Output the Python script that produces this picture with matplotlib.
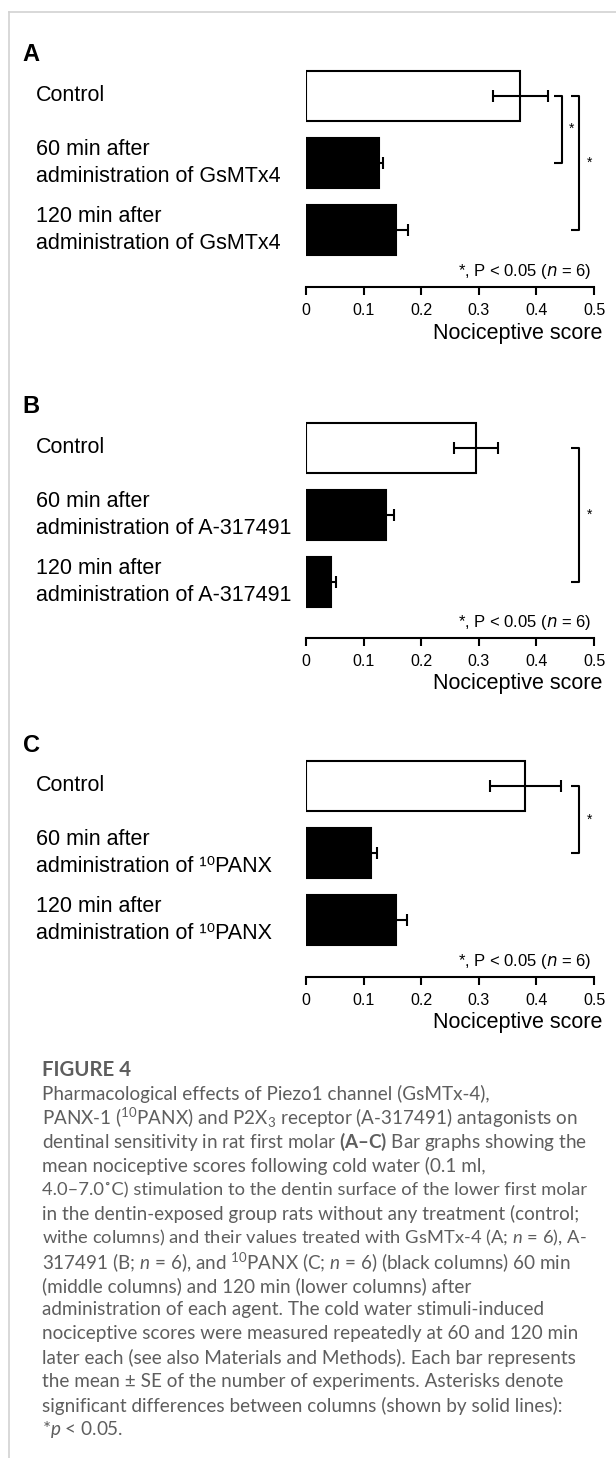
import numpy as np
import matplotlib
matplotlib.use("Agg")
import matplotlib.pyplot as plt
from matplotlib.lines import Line2D

plt.rcParams["font.family"] = ["Liberation Sans", "DejaVu Sans"]
plt.rcParams["mathtext.fontset"] = "custom"
plt.rcParams["mathtext.rm"] = "Lato"
plt.rcParams["mathtext.it"] = "Lato:italic"
plt.rcParams["mathtext.bf"] = "Lato:bold"

# ── Data ──────────────────────────────────────────────────────────────────────
PANELS = ["A", "B", "C"]
AGENTS = ["GsMTx4", "A-317491", "¹⁰PANX"]

MEANS_A = [0.372, 0.127, 0.157]
SE_A    = [0.048, 0.006, 0.020]
MEANS_B = [0.295, 0.139, 0.043]
SE_B    = [0.0385, 0.014, 0.009]
MEANS_C = [0.381, 0.113, 0.157]
SE_C    = [0.061, 0.011, 0.019]

SIG_A = [(0, 1), (0, 2)]
SIG_B = [(0, 2)]
SIG_C = [(0, 1)]

X_TICKS = [0, 0.1, 0.2, 0.3, 0.4, 0.5]
X_TICKLABELS = ["0", "0.1", "0.2", "0.3", "0.4", "0.5"]

CAPTION_TITLE = "FIGURE 4"
CAPTION_LINES = [
    "Pharmacological effects of Piezo1 channel (GsMTx-4),",
    "PANX-1 ($^{10}$PANX) and P2X$_3$ receptor (A-317491) antagonists on",
    r"dentinal sensitivity in rat first molar $\mathbf{(A–C)}$ Bar graphs showing the",
    "mean nociceptive scores following cold water (0.1 ml,",
    "4.0–7.0˚C) stimulation to the dentin surface of the lower first molar",
    "in the dentin-exposed group rats without any treatment (control;",
    "withe columns) and their values treated with GsMTx-4 (A; $n$ = 6), A-",
    "317491 (B; $n$ = 6), and $^{10}$PANX (C; $n$ = 6) (black columns) 60 min",
    "(middle columns) and 120 min (lower columns) after",
    "administration of each agent. The cold water stimuli-induced",
    "nociceptive scores were measured repeatedly at 60 and 120 min",
    "later each (see also Materials and Methods). Each bar represents",
    "the mean ± SE of the number of experiments. Asterisks denote",
    "significant differences between columns (shown by solid lines):",
    "*$p$ < 0.05.",
]

# ── Layout (pixels in a 616 x 1458 canvas) ───────────────────────────────────
W, H = 616, 1458
def fx(px): return px / W
def fy(py): return 1 - py / H

PANEL_GEOM = [  # (first bar centre px, axis line px)
    (95.7, 287.3),
    (447.7, 638.0),
    (785.8, 976.7),
]
BRACKET_X = [[0.444, 0.4745], [0.4745], [0.4745]]
STEP = 67.0          # px between bar centres
AX_L, AX_R = 306, 594

fig = plt.figure(figsize=(W / 100, H / 100), dpi=100)

# frame lines
fig.add_artist(Line2D([fx(9.3), 1], [fy(11.7), fy(11.7)], color="#d2d2d2", lw=1.2,
                      transform=fig.transFigure))
fig.add_artist(Line2D([fx(9.3), fx(9.3)], [fy(11.7), 0], color="#d2d2d2", lw=1.2,
                      transform=fig.transFigure))

data = [(MEANS_A, SE_A, SIG_A), (MEANS_B, SE_B, SIG_B), (MEANS_C, SE_C, SIG_C)]

for p, (letter, agent, (means, errs, sigs), (c0, axis_px)) in enumerate(
        zip(PANELS, AGENTS, data, PANEL_GEOM)):
    top_px = c0 - 0.8 * STEP
    ybot = (axis_px - c0) / STEP
    ax = fig.add_axes([fx(AX_L), fy(axis_px), (AX_R - AX_L) / W, (axis_px - top_px) / H])
    y = np.arange(len(means))
    colors = ["white", "black", "black"]
    ax.barh(y, means, height=0.75, color=colors, edgecolor="black", linewidth=1.5,
            xerr=errs, error_kw=dict(ecolor="black", elinewidth=1.5, capsize=4.6,
                                     capthick=1.5), zorder=3)
    ax.set_xlim(0, 0.5)
    ax.set_ylim(ybot, -0.8)
    ax.set_yticks([])
    ax.set_xticks(X_TICKS)
    ax.set_xticklabels(X_TICKLABELS, fontsize=11.5)
    ax.tick_params(axis="x", direction="out", length=5.5, width=1.5, pad=6)
    for s in ["top", "right", "left"]:
        ax.spines[s].set_visible(False)
    ax.spines["bottom"].set_linewidth(1.5)
    ax.patch.set_visible(False)

    # significance brackets
    for (a, b), bx in zip(sigs, BRACKET_X[p]):
        tick = 0.0139
        ax.plot([bx - tick, bx, bx, bx - tick], [a, a, b, b], color="black", lw=1.5,
                clip_on=False, solid_capstyle="butt")
        ax.text(bx + 0.017, (a + b) / 2, "*", ha="center", va="center", fontsize=10)

    # panel letter
    fig.text(fx(22.7), fy(c0 - 40.8), letter, fontsize=17, fontweight="bold",
             ha="left", va="center")

    # group labels
    labels = ["Control",
              f"60 min after\nadministration of {agent}",
              f"120 min after\nadministration of {agent}"]
    for i, lab in enumerate(labels):
        lines = lab.split("\n")
        for k, ln in enumerate(lines):
            yy = c0 + i * STEP + (k - (len(lines) - 1) / 2) * 26.7
            fig.text(fx(36), fy(yy), ln, fontsize=15.5, ha="left", va="center")

    fig.text(fx(591.7), fy(axis_px - 15.6), "*, P < 0.05 ($n$ = 6)", fontsize=12,
             ha="right", va="center", math_fontfamily="dejavusans")
    fig.text(fx(602.7), fy(axis_px + 46), "Nociceptive score", fontsize=15.5,
             ha="right", va="center")

# ── Caption ───────────────────────────────────────────────────────────────────
CAP_COLOR = "#5e5e5e"
CAP_X, CAP_W = 41.7, 545.0
renderer = fig.canvas.get_renderer()

probe = fig.text(0, 0, CAPTION_LINES[2], fontsize=12, family="Lato")
cap_fs = 12 * CAP_W / probe.get_window_extent(renderer).width
probe.remove()

fig.text(fx(CAP_X), fy(1070), CAPTION_TITLE, fontsize=cap_fs * 1.08, family="Lato",
         fontweight="bold", color=CAP_COLOR, ha="left", va="center")
for i, ln in enumerate(CAPTION_LINES):
    t = fig.text(fx(CAP_X), fy(1094 + i * 24.0), ln, fontsize=cap_fs, family="Lato",
                 color=CAP_COLOR, ha="left", va="center")
    w = t.get_window_extent(renderer).width
    if w > CAP_W + 2:
        t.set_fontsize(cap_fs * CAP_W / w)

fig.savefig("out.png", dpi=100)
